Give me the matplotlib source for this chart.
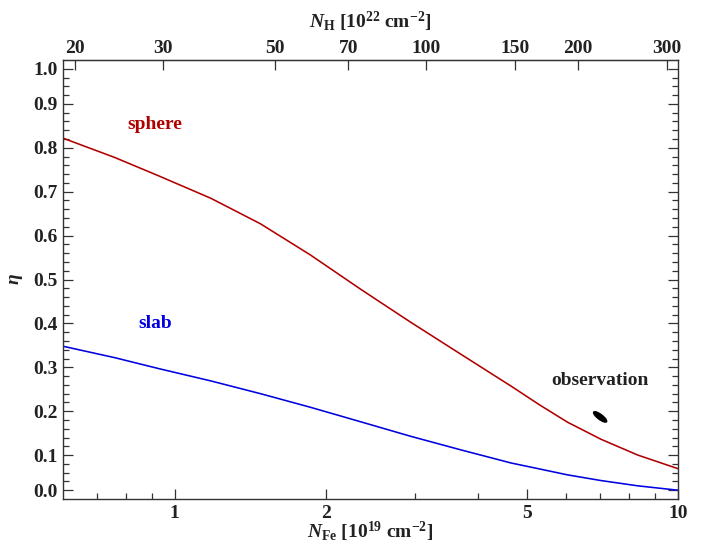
import numpy as np
import matplotlib
matplotlib.use("Agg")
import matplotlib.pyplot as plt
from matplotlib.patches import Ellipse
from matplotlib.transforms import ScaledTranslation
from matplotlib.ticker import FixedLocator, FixedFormatter, NullLocator

# N_Fe in 10^19 cm^-2, N_H in 10^22 cm^-2  (Fe abundance 10^-4.5)
NH_PER_NFE = 10 ** 1.5

n_fe = [0.6, 0.76, 0.93, 1.18, 1.48, 1.86, 2.34, 2.94, 3.7, 4.66, 5.33,
        6.03, 7.03, 8.32, 10.0]
eta_sphere = [0.822, 0.778, 0.736, 0.685, 0.627, 0.556, 0.478, 0.403, 0.330,
              0.257, 0.213, 0.175, 0.136, 0.100, 0.069]
eta_slab = [0.348, 0.322, 0.297, 0.269, 0.240, 0.209, 0.176, 0.143, 0.112,
            0.082, 0.068, 0.055, 0.042, 0.030, 0.020]

obs_nfe, obs_eta = 7.0, 0.187

bottom_major = [1, 2, 5, 10]
bottom_minor = [0.7, 0.8, 0.9, 3, 4, 6, 7, 8, 9]
top_ticks = [20, 30, 50, 70, 100, 150, 200, 300]
# the 0.0 / 1.0 labels sit one minor step inside the frame, as in the original
y_major = [0.02, 0.1, 0.2, 0.3, 0.4, 0.5, 0.6, 0.7, 0.8, 0.9, 0.98]
y_labels = ["0.0", "0.1", "0.2", "0.3", "0.4", "0.5", "0.6", "0.7", "0.8",
            "0.9", "1.0"]

RED = "#b00000"
BLUE = "#0000e0"
TXT = "#222222"
FS = 14

plt.rcParams["font.family"] = "Liberation Serif"
plt.rcParams["font.weight"] = "bold"
plt.rcParams["axes.labelweight"] = "bold"
plt.rcParams["mathtext.fontset"] = "custom"
plt.rcParams["mathtext.rm"] = "Liberation Serif:bold"
plt.rcParams["mathtext.it"] = "Liberation Serif:italic:bold"
plt.rcParams["mathtext.bf"] = "Liberation Serif:bold"


def main():
    fig = plt.figure(figsize=(7.03, 5.44), dpi=100)
    ax = fig.add_axes([0.0896, 0.0827, 0.875, 0.807])

    ax.plot(n_fe, eta_sphere, color=RED, lw=1.15)
    ax.plot(n_fe, eta_slab, color=BLUE, lw=1.15)

    ell = Ellipse((0, 0), 0.16, 0.05, angle=-37, color="black",
                  transform=fig.dpi_scale_trans
                  + ScaledTranslation(obs_nfe, obs_eta, ax.transData))
    ax.add_patch(ell)

    ax.text(0.912, 0.852, "sphere", color=RED, fontsize=FS,
            ha="center", va="center")
    ax.text(0.915, 0.399, "slab", color=BLUE, fontsize=FS,
            ha="center", va="center")
    ax.text(7.0, 0.2695, "observation", color=TXT, fontsize=FS,
            ha="center", va="center")

    ax.set_xscale("log")
    ax.set_xlim(0.6, 10)
    ax.set_ylim(0, 1)

    ax.xaxis.set_major_locator(FixedLocator(bottom_major))
    ax.xaxis.set_major_formatter(FixedFormatter([str(v) for v in bottom_major]))
    ax.xaxis.set_minor_locator(FixedLocator(bottom_minor))
    ax.xaxis.set_minor_formatter(FixedFormatter([]))
    ax.yaxis.set_major_locator(FixedLocator(y_major))
    ax.yaxis.set_major_formatter(FixedFormatter(y_labels))
    ax.yaxis.set_minor_locator(FixedLocator(np.arange(0.02, 0.99, 0.02)))

    ax.tick_params(which="both", direction="in", colors="#333333",
                   labelcolor=TXT, labelsize=FS, top=False, right=True,
                   width=0.9)
    ax.tick_params(which="major", length=7.5, pad=4)
    ax.tick_params(which="minor", length=4.3)
    for sp in ax.spines.values():
        sp.set_color("#333333")
        sp.set_linewidth(1.0)

    ax.set_xlabel(r"$N_{\rm Fe}$ [10$^{19}$ cm$^{-2}$]", fontsize=FS,
                  color=TXT, labelpad=-1)
    ax.set_ylabel(r"$\eta$", fontsize=FS, color=TXT, labelpad=6)

    sec = ax.secondary_xaxis("top", functions=(lambda x: x * NH_PER_NFE,
                                               lambda x: x / NH_PER_NFE))
    sec.xaxis.set_major_locator(FixedLocator(top_ticks))
    sec.xaxis.set_major_formatter(FixedFormatter([str(v) for v in top_ticks]))
    sec.xaxis.set_minor_locator(NullLocator())
    sec.tick_params(direction="in", length=7.5, width=0.9, colors="#333333",
                    labelcolor=TXT, labelsize=FS, pad=2.5)
    sec.set_xlabel(r"$N_{\rm H}$ [10$^{22}$ cm$^{-2}$]", fontsize=FS,
                   color=TXT, labelpad=8)

    fig.savefig("out.png", dpi=100)


if __name__ == "__main__":
    main()
